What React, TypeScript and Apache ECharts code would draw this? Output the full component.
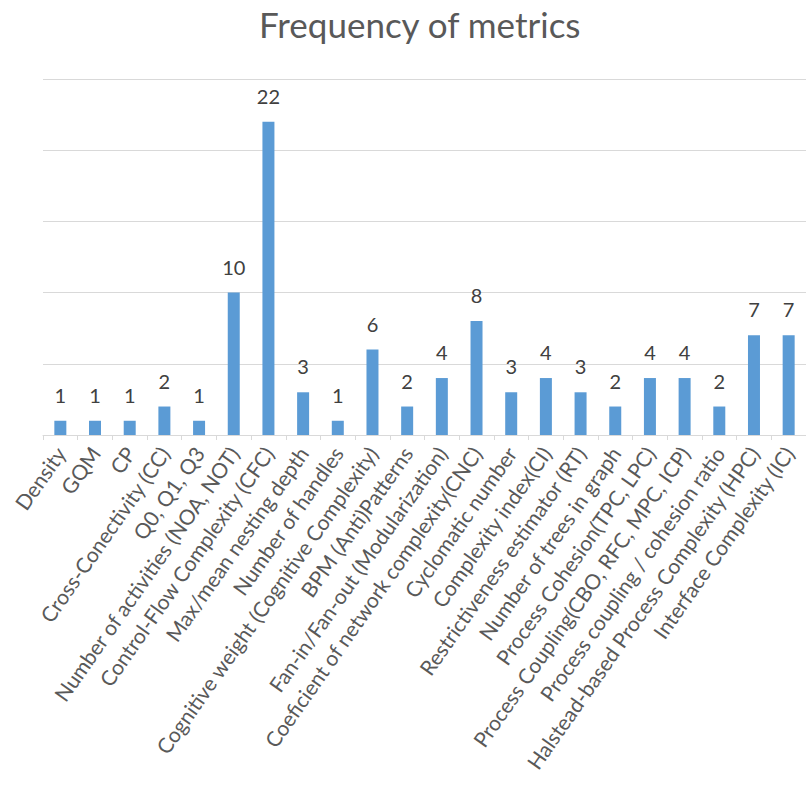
import React, { useEffect, useRef } from "react";
import * as echarts from "echarts";

const categories = [
  "Density",
  "GQM",
  "CP",
  "Cross-Conectivity (CC)",
  "Q0, Q1, Q3",
  "Number of activities (NOA, NOT)",
  "Control-Flow Complexity (CFC)",
  "Max/mean nesting depth",
  "Number of handles",
  "Cognitive weight (Cognitive Complexity)",
  "BPM (Anti)Patterns",
  "Fan-in/Fan-out (Modularization)",
  "Coeficient of network complexity(CNC)",
  "Cyclomatic number",
  "Complexity index(CI)",
  "Restrictiveness estimator (RT)",
  "Number of trees in graph",
  "Process Cohesion(TPC, LPC)",
  "Process Coupling(CBO, RFC, MPC, ICP)",
  "Process coupling / cohesion ratio",
  "Halstead-based Process Complexity (HPC)",
  "Interface Complexity (IC)",
];

const frequency = [1, 1, 1, 2, 1, 10, 22, 3, 1, 6, 2, 4, 8, 3, 4, 3, 2, 4, 4, 2, 7, 7];

const FONT = "Lato, 'Open Sans', sans-serif";

export default function App() {
  const ref = useRef<HTMLDivElement>(null);
  useEffect(() => {
    if (!ref.current) return;
    const chart = echarts.init(ref.current, undefined, { renderer: "svg" });
    chart.setOption({
      animation: false,
      backgroundColor: "#ffffff",
      title: {
        text: "Frequency of metrics",
        left: 254,
        top: 1,
        textStyle: { fontFamily: FONT, fontSize: 35, fontWeight: "normal", color: "#595959" },
      },
      grid: { left: 43, top: 79, width: 768, height: 356 },
      xAxis: {
        type: "category",
        data: categories,
        axisLine: { lineStyle: { color: "#d9d9d9", width: 1 } },
        axisTick: { show: true, alignWithLabel: false, length: 5, lineStyle: { color: "#d9d9d9" } },
        axisLabel: {
          interval: 0,
          rotate: 55,
          fontFamily: FONT,
          fontSize: 21,
          color: "#595959",
          margin: 14,
        },
      },
      yAxis: {
        type: "value",
        min: 0,
        max: 25,
        interval: 5,
        axisLabel: { show: false },
        axisLine: { show: false },
        axisTick: { show: false },
        splitLine: { lineStyle: { color: "#d9d9d9", width: 1 } },
      },
      series: [
        {
          type: "bar",
          data: frequency,
          barWidth: 12,
          itemStyle: { color: "#5b9bd5" },
          label: {
            show: true,
            position: "top",
            distance: 16,
            fontFamily: FONT,
            fontSize: 20,
            color: "#404040",
          },
        },
      ],
    });
    return () => chart.dispose();
  }, []);
  return (
    <div
      ref={ref}
      style={{ position: "absolute", left: 0, top: 0, width: 806, height: 798 }}
    />
  );
}
